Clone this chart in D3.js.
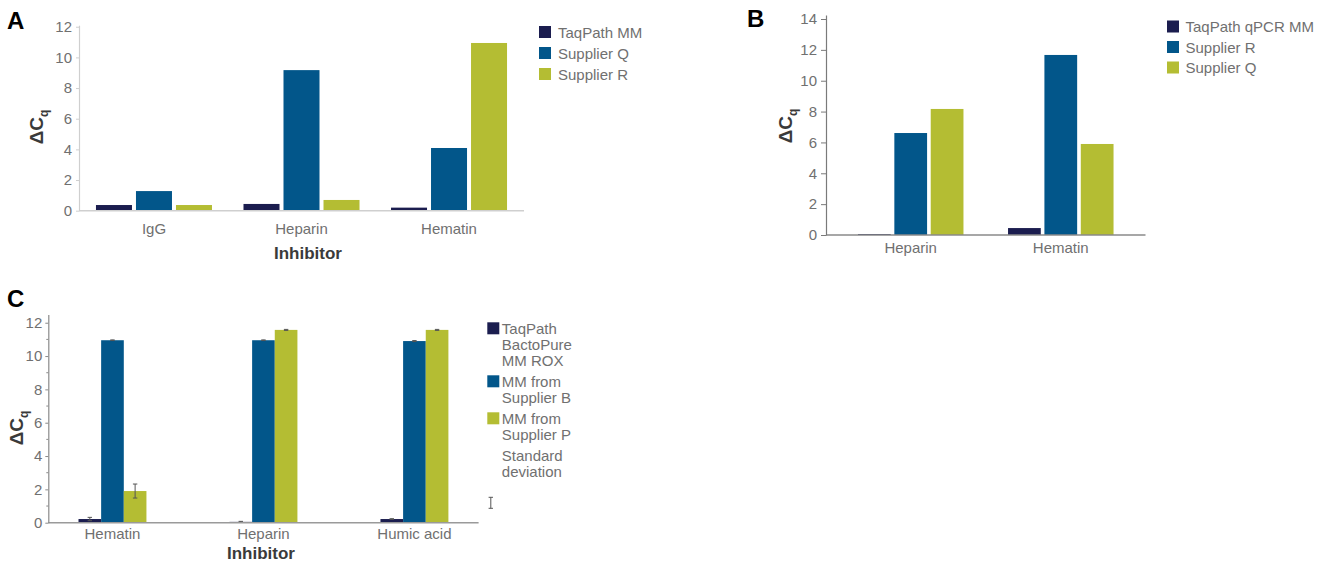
<!DOCTYPE html>
<html>
<head>
<meta charset="utf-8">
<script src="https://cdn.jsdelivr.net/npm/d3@7"></script>
<style>
  html, body { margin: 0; padding: 0; background: #fff; }
  svg { display: block; font-family: "Liberation Sans", Arial, sans-serif; }
</style>
</head>
<body>
<svg id="fig" width="1324" height="564"></svg>
<script>
// ---- Panel A: inhibitor tolerance, three master mixes ----
const inhibitorsA = ["IgG", "Heparin", "Hematin"];
const seriesA = ["TaqPath MM", "Supplier Q", "Supplier R"];
const taqPathA = [0.37, 0.44, 0.20];
const supplierQA = [1.28, 9.17, 4.09];
const supplierRA = [0.37, 0.70, 10.94];
const ticksA = [0, 2, 4, 6, 8, 10, 12];

// ---- Panel B ----
const inhibitorsB = ["Heparin", "Hematin"];
const seriesB = ["TaqPath qPCR MM", "Supplier R", "Supplier Q"];
const taqPathB = [0.06, 0.45];
const supplierRB = [6.61, 11.67];
const supplierQB = [8.17, 5.90];
const ticksB = [0, 2, 4, 6, 8, 10, 12, 14];

// ---- Panel C (with standard deviations) ----
const inhibitorsC = ["Hematin", "Heparin", "Humic acid"];
const seriesC = [["TaqPath", "BactoPure", "MM ROX"], ["MM from", "Supplier B"], ["MM from", "Supplier P"]];
const taqPathC = [0.22, 0.05, 0.22];
const supplierBC = [10.95, 10.95, 10.90];
const supplierPC = [1.90, 11.57, 11.57];
const sdTaqPathC = [0.10, 0.03, 0.02];
const sdSupplierBC = [0.02, 0.02, 0.03];
const sdSupplierPC = [0.42, 0.03, 0.03];
const ticksC = [0, 2, 4, 6, 8, 10, 12];
const minorTicksC = [1, 3, 5, 7, 9, 11];

const colors = ["#1b1d4f", "#02568a", "#b4bd33"];
const tickColor = "#707070";
const titleColor = "#3a3a3a";

const svg = d3.select("#fig");

function drawPanel(cfg) {
  const g = svg.append("g");
  const y = d3.scaleLinear().domain([0, cfg.yMax]).range([cfg.bottom, cfg.top]);
  const x0 = d3.scaleBand().domain(cfg.categories).range([cfg.left, cfg.right])
    .paddingInner(cfg.groupPadInner).paddingOuter(cfg.groupPadOuter);
  const x1 = d3.scaleBand().domain(d3.range(cfg.series.length)).range([0, x0.bandwidth()])
    .paddingInner(cfg.barPad);

  // bars
  cfg.series.forEach((vals, si) => {
    g.append("g").selectAll("rect").data(vals).join("rect")
      .attr("x", (d, i) => x0(cfg.categories[i]) + x1(si))
      .attr("width", x1.bandwidth())
      .attr("y", d => y(d))
      .attr("height", d => y(0) - y(d))
      .attr("fill", colors[si]);
  });

  // error bars
  if (cfg.sd) {
    cfg.sd.forEach((sds, si) => {
      sds.forEach((s, i) => {
        const v = cfg.series[si][i];
        const cx = x0(cfg.categories[i]) + x1(si) + x1.bandwidth() / 2;
        const eg = g.append("g").attr("stroke", "#555").attr("stroke-width", 1);
        eg.append("line").attr("x1", cx).attr("x2", cx).attr("y1", y(v - s)).attr("y2", y(v + s));
        eg.append("line").attr("x1", cx - 2.2).attr("x2", cx + 2.2).attr("y1", y(v - s)).attr("y2", y(v - s));
        eg.append("line").attr("x1", cx - 2.2).attr("x2", cx + 2.2).attr("y1", y(v + s)).attr("y2", y(v + s));
      });
    });
  }

  // baseline
  g.append("line")
    .attr("x1", cfg.left).attr("x2", cfg.right)
    .attr("y1", y(0)).attr("y2", y(0))
    .attr("stroke", cfg.baseColor).attr("stroke-width", 1.5);

  // y axis
  const ya = g.append("g").attr("transform", `translate(${cfg.left},0)`)
    .call(d3.axisLeft(y).tickValues(cfg.ticks).tickSize(cfg.tickSize).tickSizeOuter(0).tickPadding(cfg.tickPad));
  ya.select(".domain").attr("stroke", cfg.axisColor).attr("stroke-width", 1.2);
  ya.selectAll(".tick line").attr("stroke", cfg.axisColor);
  ya.selectAll(".tick text").attr("fill", tickColor).style("font-size", "15px")
    .style("font-family", "'Liberation Sans', Arial, sans-serif");
  if (cfg.minorTicks) {
    g.append("g").selectAll("line").data(cfg.minorTicks).join("line")
      .attr("x1", cfg.left - 2).attr("x2", cfg.left)
      .attr("y1", d => y(d)).attr("y2", d => y(d))
      .attr("stroke", cfg.axisColor);
  }

  // category labels
  g.append("g").selectAll("text").data(cfg.categories).join("text")
    .attr("x", d => x0(d) + x0.bandwidth() / 2)
    .attr("y", cfg.catY)
    .attr("text-anchor", "middle")
    .attr("fill", tickColor)
    .style("font-size", "15px")
    .text(d => d);

  // y title: ΔCq
  const yt = g.append("text")
    .attr("transform", `translate(${cfg.yTitleX},${cfg.yTitleY}) rotate(-90)`)
    .attr("text-anchor", "middle")
    .attr("fill", titleColor)
    .style("font-weight", "bold")
    .style("font-size", "19px");
  yt.append("tspan").text("ΔC");
  yt.append("tspan").attr("dy", 5).style("font-size", "12px").text("q");

  // x title
  if (cfg.xTitle) {
    g.append("text").attr("x", cfg.xTitleX).attr("y", cfg.xTitleY)
      .attr("text-anchor", "middle").attr("fill", titleColor)
      .style("font-weight", "bold").style("font-size", "17px")
      .text(cfg.xTitle);
  }

  // panel letter
  g.append("text").attr("x", cfg.letterX).attr("y", cfg.letterY)
    .attr("fill", "#000").style("font-weight", "bold").style("font-size", "24px")
    .text(cfg.letter);

  // legend
  const lg = g.append("g").attr("transform", `translate(${cfg.legendX},${cfg.legendY})`);
  let yy = 0;
  cfg.legend.forEach((label, i) => {
    const lines = Array.isArray(label) ? label : [label];
    lg.append("rect").attr("x", 0).attr("y", yy).attr("width", 12).attr("height", 12).attr("fill", colors[i]);
    const t = lg.append("text").attr("x", cfg.legendTextDx).attr("y", yy + 11.5)
      .attr("fill", tickColor).style("font-size", "15px");
    lines.forEach((ln, k) => t.append("tspan").attr("x", cfg.legendTextDx).attr("dy", k === 0 ? 0 : cfg.lineH).text(ln));
    yy += cfg.rowH + (lines.length - 1) * cfg.lineH;
  });
  if (cfg.sd) {
    const t = lg.append("text").attr("x", cfg.legendTextDx).attr("y", yy + 11.5)
      .attr("fill", tickColor).style("font-size", "15px");
    ["Standard", "deviation"].forEach((ln, k) => t.append("tspan").attr("x", cfg.legendTextDx).attr("dy", k === 0 ? 0 : cfg.lineH).text(ln));
    const sy = yy + 2 * cfg.lineH + 16;
    const ig = lg.append("g").attr("stroke", "#555").attr("stroke-width", 1);
    ig.append("line").attr("x1", 3.5).attr("x2", 3.5).attr("y1", sy).attr("y2", sy + 11);
    ig.append("line").attr("x1", 1.3).attr("x2", 5.7).attr("y1", sy).attr("y2", sy);
    ig.append("line").attr("x1", 1.3).attr("x2", 5.7).attr("y1", sy + 11).attr("y2", sy + 11);
  }
}

drawPanel({
  letter: "A", letterX: 7, letterY: 29,
  categories: inhibitorsA, series: [taqPathA, supplierQA, supplierRA],
  left: 79, right: 524, bottom: 210.7, top: 25.2, yMax: 12.1,
  groupPadInner: 0.2136, groupPadOuter: 0.115, barPad: 0.1,
  ticks: ticksA, tickSize: 3, tickPad: 4,
  axisColor: "#cfcfcf", baseColor: "#cfcfcf",
  catY: 234, xTitle: "Inhibitor", xTitleX: 308, xTitleY: 259,
  yTitleX: 42.5, yTitleY: 127,
  legend: seriesA, legendX: 539, legendY: 26, legendTextDx: 19, rowH: 21, lineH: 16
});

drawPanel({
  letter: "B", letterX: 747, letterY: 27,
  categories: inhibitorsB, series: [taqPathB, supplierRB, supplierQB],
  left: 826, right: 1145.5, bottom: 235, top: 15, yMax: 14.26,
  groupPadInner: 0.297, groupPadOuter: 0.213, barPad: 0.1,
  ticks: ticksB, tickSize: 5, tickPad: 4,
  axisColor: "#7a7a7a", baseColor: "#8a8a8a",
  catY: 253,
  yTitleX: 792, yTitleY: 126,
  legend: seriesB, legendX: 1167, legendY: 20.5, legendTextDx: 18.5, rowH: 20.5, lineH: 16
});

drawPanel({
  letter: "C", letterX: 7, letterY: 306.5,
  categories: inhibitorsC, series: [taqPathC, supplierBC, supplierPC],
  sd: [sdTaqPathC, sdSupplierBC, sdSupplierPC],
  left: 48.3, right: 478.6, bottom: 522.7, top: 314.4, yMax: 12.5,
  groupPadInner: 0.55, groupPadOuter: 0.2, barPad: 0,
  ticks: ticksC, minorTicks: minorTicksC, tickSize: 3, tickPad: 3,
  axisColor: "#8a8a8a", baseColor: "#9a9a9a",
  catY: 539, xTitle: "Inhibitor", xTitleX: 261, xTitleY: 559,
  yTitleX: 23, yTitleY: 428,
  legend: seriesC, legendX: 487.3, legendY: 322.3, legendTextDx: 14.5, rowH: 21, lineH: 16
});
</script>
</body>
</html>
